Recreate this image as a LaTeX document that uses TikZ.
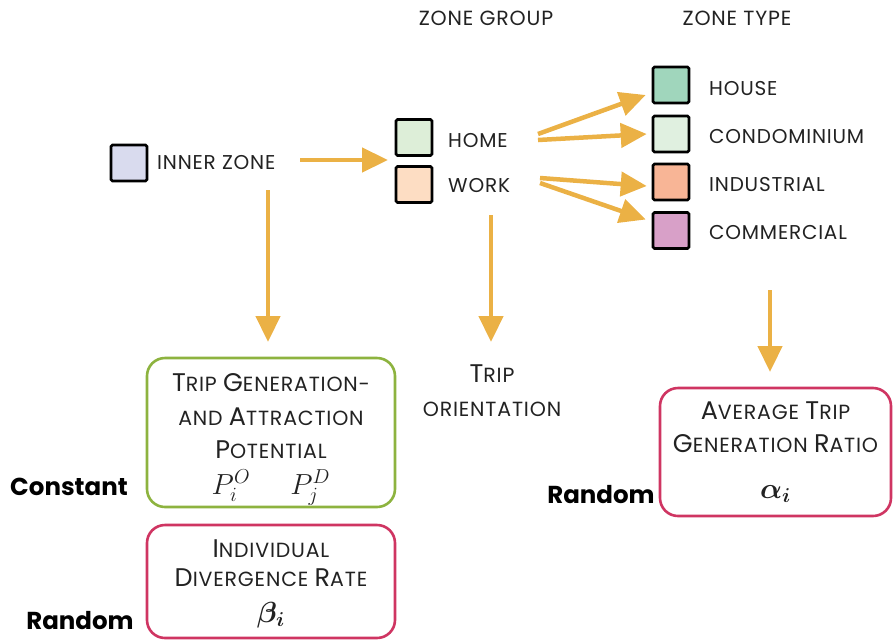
\documentclass[tikz,border=0pt]{standalone}
\usepackage{amsmath,bm}
\usepackage{graphicx}
\usepackage{fontspec}
\setmainfont{Poppins}[LetterSpace=4]
\newfontfamily\tagfont{Poppins}
\usetikzlibrary{arrows.meta}
\definecolor{arrc}{HTML}{EBB145}
\definecolor{grn}{HTML}{8DB33F}
\definecolor{redb}{HTML}{CF3562}
\definecolor{cinner}{HTML}{D9DBEE}
\definecolor{chome}{HTML}{DDEED8}
\definecolor{cwork}{HTML}{FDDDC3}
\definecolor{chouse}{HTML}{A0D6BC}
\definecolor{ccondo}{HTML}{E0F0E0}
\definecolor{cind}{HTML}{F8B596}
\definecolor{ccom}{HTML}{D8A0C8}
\definecolor{txt}{HTML}{222222}
\newcommand\Bc[1]{{\fontsize{25.5}{28}\selectfont #1}}
\newcommand\Mth[1]{\scalebox{1.4}{$#1$}}
\tikzset{
  x=1pt, y=-1pt,
  arr/.style={draw=arrc, line width=4.5pt, -{Triangle[length=26pt,width=24pt]}},
  sq/.style={draw=black, line width=2.6pt, rounded corners=1.5pt, minimum width=36pt, minimum height=36pt, inner sep=0pt},
  lbl/.style={anchor=west, text=txt, font=\fontsize{20}{24}\selectfont, inner sep=0pt},
  hdr/.style={text=txt, font=\fontsize{20.5}{24}\selectfont, inner sep=0pt},
  rbox/.style={draw, rounded corners=18pt, line width=2.6pt, align=center, text=txt, inner sep=0pt},
  tag/.style={text=black, font=\tagfont\bfseries\fontsize{24.5}{28}\selectfont, inner sep=0pt},
}
\begin{document}
\begin{tikzpicture}
\useasboundingbox (0,0) rectangle (893,640);
% headers
\node[hdr] (hgrp) at (486,18) {ZONE GROUP};
\node[hdr] (htype) at (737,18) {ZONE TYPE};
% inner zone
\node[sq, fill=cinner] (inner) at (129,163) {};
\node[lbl] (innerl) at (157,163) {INNER ZONE};
% group
\node[sq, fill=chome] (home) at (414,137.5) {};
\node[lbl] (homel) at (448,141) {HOME};
\node[sq, fill=cwork] (work) at (414,184.5) {};
\node[lbl] (workl) at (448,186) {WORK};
% types
\node[sq, fill=chouse] (house) at (671,85) {};
\node[lbl] (housel) at (709,89) {HOUSE};
\node[sq, fill=ccondo] (condo) at (671,134) {};
\node[lbl] (condol) at (709,137) {CONDOMINIUM};
\node[sq, fill=cind] (ind) at (671,182) {};
\node[lbl] (indl) at (709,185) {INDUSTRIAL};
\node[sq, fill=ccom] (com) at (671,230.5) {};
\node[lbl] (coml) at (709,233) {COMMERCIAL};
% boxes
\node[rbox, draw=grn, minimum width=248pt, minimum height=149pt,
      font=\fontsize{20.5}{33.5}\selectfont] (trip) at (271,432.5)
  {\rule{0pt}{32pt}\Bc{T}RIP \Bc{G}ENERATION-\\AND \Bc{A}TTRACTION\\\Bc{P}OTENTIAL\\[2pt]
   \Mth{P_i^{O}}\hspace{40pt}\Mth{P_j^{D}}};
\node[rbox, draw=redb, minimum width=248pt, minimum height=113pt,
      font=\fontsize{20.5}{29}\selectfont] (div) at (271,581.5)
  {\rule{0pt}{22pt}\Bc{I}NDIVIDUAL\\\Bc{D}IVERGENCE \Bc{R}ATE\\[7pt]
   \Mth{\bm{\beta}_{\bm{i}}}};
\node[rbox, draw=redb, minimum width=231pt, minimum height=128pt,
      font=\fontsize{20.5}{33}\selectfont] (avg) at (775.5,452)
  {\Bc{A}VERAGE \Bc{T}RIP\\\Bc{G}ENERATION \Bc{R}ATIO\\[13pt]
   \Mth{\bm{\alpha}_{\bm{i}}}};
\node[text=txt, align=center, font=\fontsize{20.5}{34}\selectfont, inner sep=0pt] (orient) at (492,391)
  {\Bc{T}RIP\\ORIENTATION};
% tags
\node[tag] (const) at (69,487) {Constant};
\node[tag] (rand1) at (80,621) {Random};
\node[tag] (rand2) at (601,495) {Random};
% connector coordinates
\coordinate (gin) at (388,160);
\coordinate (i1) at (268,190);
\coordinate (i2) at (268,342);
\coordinate (w1) at (491,215);
\coordinate (w2) at (491,342);
\coordinate (t1) at (770,290);
\coordinate (t2) at (770,372);
\coordinate (hs1) at (538,134);
\coordinate (hs2) at (538,140);
\coordinate (ws1) at (540,178);
\coordinate (ws2) at (540,183);
\coordinate (z1) at (300,160);
% connectors
\draw[arr] (z1) -- (gin);
\draw[arr] (i1) -- (i2);
\draw[arr] (w1) -- (w2);
\draw[arr] (t1) -- (t2);
\draw[arr] (hs1) -- ([xshift=-6pt,yshift=-10pt]house.west);
\draw[arr] (hs2) -- ([xshift=-5pt]condo.west);
\draw[arr] (ws1) -- ([xshift=-5pt,yshift=-4pt]ind.west);
\draw[arr] (ws2) -- ([xshift=-6pt,yshift=11pt]com.west);
\end{tikzpicture}
\end{document}
